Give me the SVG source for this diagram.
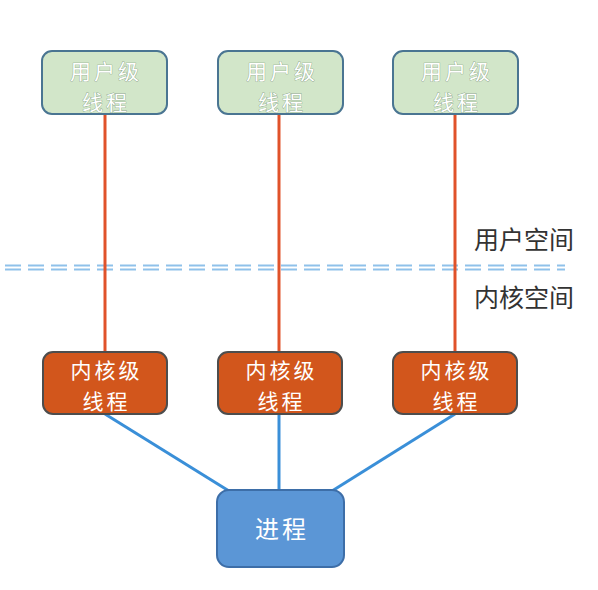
<svg xmlns="http://www.w3.org/2000/svg" width="598" height="590" viewBox="0 0 598 590">
<style>
.t{font-family:"Noto Sans CJK SC","Noto Sans",sans-serif;font-size:21px;letter-spacing:3px;fill:#fff;text-anchor:middle}
.u{fill:#d2e6c9;stroke:#4a7592;stroke-width:2}
.k{fill:#d2561c;stroke:#4d4d4d;stroke-width:2}
.p{fill:#5b96d6;stroke:#3d6ea8;stroke-width:2}
.ut{stroke:#7f9c80;stroke-width:0.7;paint-order:stroke}
.lab{font-family:"Noto Sans CJK SC","Noto Sans",sans-serif;font-size:25px;fill:#333;text-anchor:middle}
.red{stroke:#e0522a;stroke-width:3;fill:none}
.blue{stroke:#3a8fd8;stroke-width:3;fill:none}
.dash{stroke:#8fc1ea;stroke-width:2;stroke-dasharray:16 7;fill:none}
</style>
<rect width="598" height="590" fill="#fff"/>
<g id="divider">
<line class="dash" x1="5" y1="265.5" x2="565" y2="265.5"/>
<line class="dash" x1="5" y1="269.5" x2="565" y2="269.5"/>
</g>
<g id="connectors">
<line class="red" x1="105" y1="114" x2="105" y2="352"/>
<line class="red" x1="279" y1="114" x2="279" y2="352"/>
<line class="red" x1="455" y1="114" x2="455" y2="352"/>
<line class="blue" x1="105" y1="414" x2="229" y2="491"/>
<line class="blue" x1="279" y1="414" x2="279" y2="491"/>
<line class="blue" x1="455" y1="414" x2="332" y2="491"/>
</g>
<g id="user1"><rect class="u" x="42" y="51" width="125" height="63" rx="10"/><text class="t ut" x="106" y="79">用户级</text><text class="t ut" x="106" y="110">线程</text></g>
<g id="user2"><rect class="u" x="218" y="51" width="125" height="63" rx="10"/><text class="t ut" x="282" y="79">用户级</text><text class="t ut" x="282" y="110">线程</text></g>
<g id="user3"><rect class="u" x="393" y="51" width="125" height="63" rx="10"/><text class="t ut" x="457" y="79">用户级</text><text class="t ut" x="457" y="110">线程</text></g>
<g id="kernel1"><rect class="k" x="43" y="352" width="124" height="62" rx="10"/><text class="t" x="106.5" y="378">内核级</text><text class="t" x="106.5" y="409">线程</text></g>
<g id="kernel2"><rect class="k" x="218" y="352" width="124" height="62" rx="10"/><text class="t" x="281.5" y="378">内核级</text><text class="t" x="281.5" y="409">线程</text></g>
<g id="kernel3"><rect class="k" x="393" y="352" width="124" height="62" rx="10"/><text class="t" x="456.5" y="378">内核级</text><text class="t" x="456.5" y="409">线程</text></g>
<g id="process"><rect class="p" x="217" y="490" width="127" height="77" rx="12"/><text class="t" x="282" y="538" style="font-size:24px">进程</text></g>
<g id="labels">
<text class="lab" x="524" y="249">用户空间</text>
<text class="lab" x="524" y="307">内核空间</text>
</g>
</svg>
